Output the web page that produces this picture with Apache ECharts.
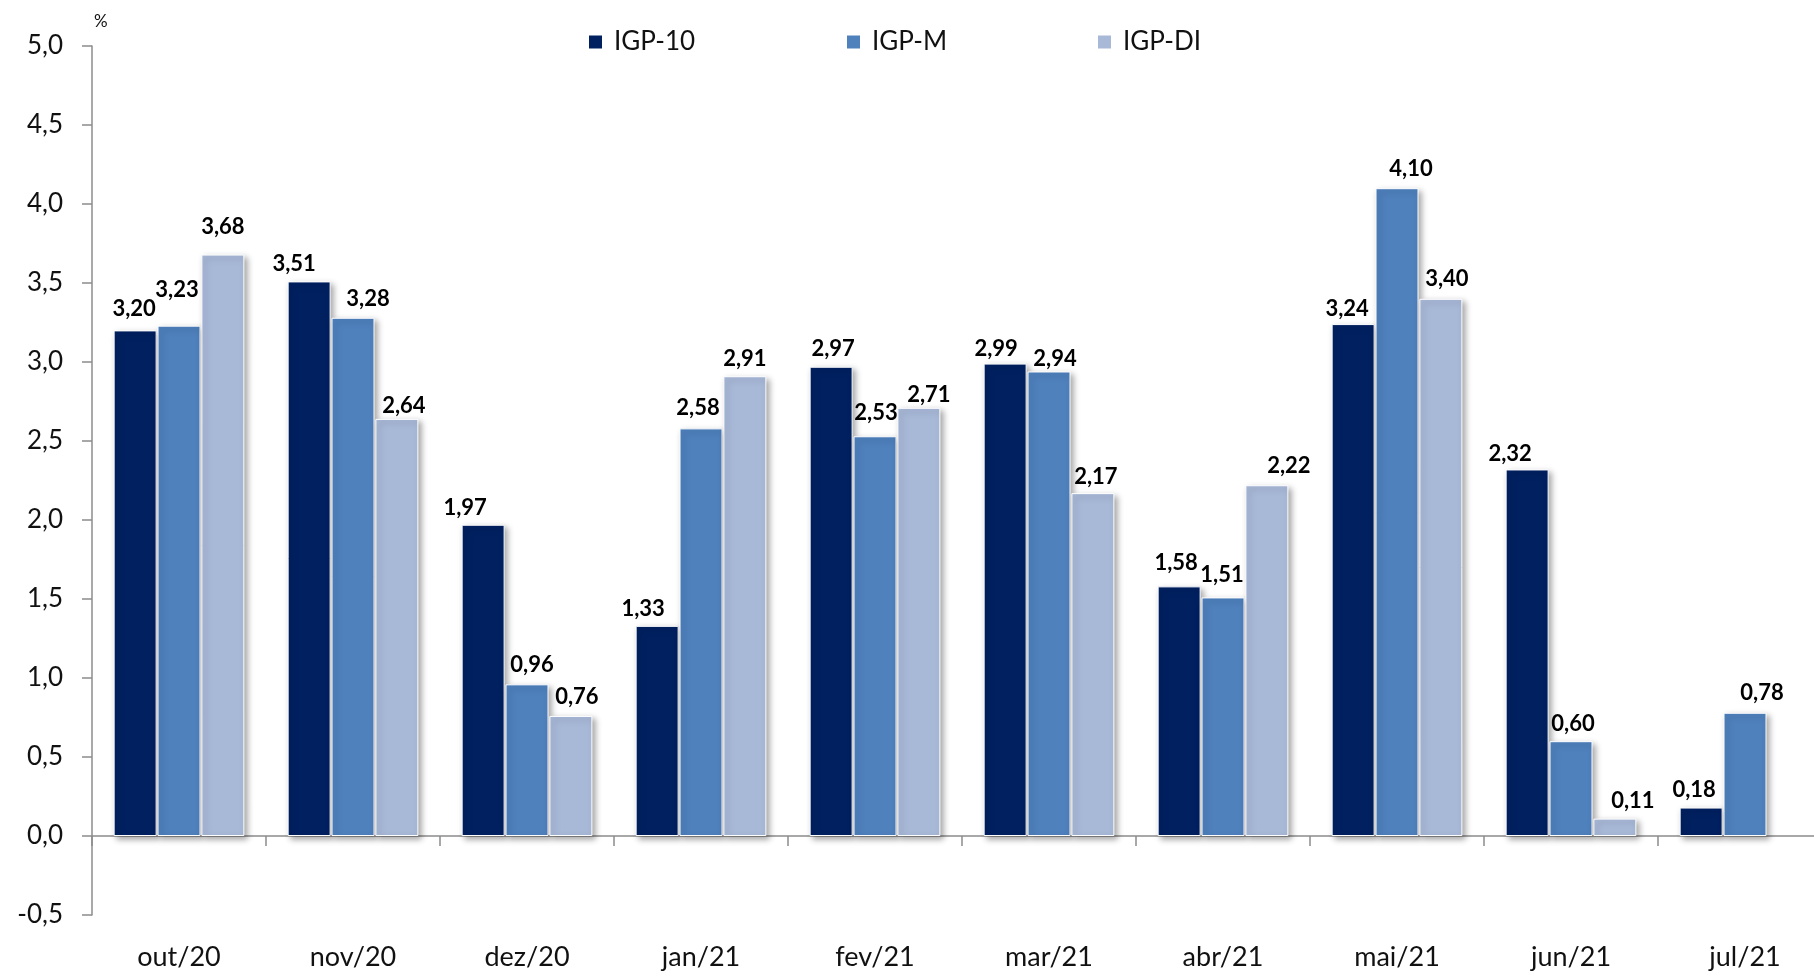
<!DOCTYPE html>
<html>
<head>
<meta charset="utf-8">
<style>
  html, body { margin: 0; padding: 0; background: #fff; }
  #chart { width: 1814px; height: 976px; }
</style>
<script src="https://cdn.jsdelivr.net/npm/echarts@6/dist/echarts.min.js"></script>
</head>
<body>
<div id="chart"></div>
<script>
// ---- data ----
const categories = ['out/20', 'nov/20', 'dez/20', 'jan/21', 'fev/21', 'mar/21', 'abr/21', 'mai/21', 'jun/21', 'jul/21'];
const seriesNames = ['IGP-10', 'IGP-M', 'IGP-DI'];
const igp10 = [3.20, 3.51, 1.97, 1.33, 2.97, 2.99, 1.58, 3.24, 2.32, 0.18];
const igpM  = [3.23, 3.28, 0.96, 2.58, 2.53, 2.94, 1.51, 4.10, 0.60, 0.78];
const igpDI = [3.68, 2.64, 0.76, 2.91, 2.71, 2.17, 2.22, 3.40, 0.11, null];
const yTicks = [-0.5, 0.0, 0.5, 1.0, 1.5, 2.0, 2.5, 3.0, 3.5, 4.0, 4.5, 5.0];

// ---- styling (label nudges as in the original, px) ----
const colors = ['#002060', '#4F81BD', '#A8B9D8'];
const nudge10 = [[-1,-3],[-15,0],[-18,1],[-14,1],[2,0],[-9,3],[-3,-5],[-6,3],[-17,2],[-7,0]];
const nudgeM  = [[-2,-18],[15,-1],[5,-1],[-3,-2],[1,-5],[6,5],[-1,-5],[14,-1],[2,1],[17,-2]];
const nudgeDI = [[0,-10],[7,5],[6,-1],[0,1],[10,5],[3,2],[22,-1],[6,-2],[18,0],[0,0]];

const FONT = 'Lato, "Open Sans", sans-serif';
const fmt2 = v => v.toFixed(2).replace('.', ',');
const fmt1 = v => v.toFixed(1).replace('.', ',');

function build(values, nudges) {
  return values.map((v, i) => v === null ? null : ({ value: v, label: { offset: nudges[i] } }));
}

const allValues = [igp10, igpM, igpDI];
const allNudges = [nudge10, nudgeM, nudgeDI];

const series = seriesNames.map((name, k) => ({
  name: name,
  type: 'bar',
  xAxisIndex: 0,
  yAxisIndex: 0,
  barWidth: 43,
  barGap: '2%',
  data: build(allValues[k], allNudges[k]),
  itemStyle: {
    color: colors[k],
    borderColor: '#ffffff',
    borderWidth: 1,
    shadowColor: 'rgba(0,0,0,0.35)',
    shadowBlur: 6,
    shadowOffsetX: 3,
    shadowOffsetY: 3
  },
  label: {
    show: true,
    position: 'top',
    distance: 7,
    fontFamily: FONT,
    fontWeight: 'bold',
    fontSize: 22,
    color: '#000',
    formatter: p => fmt2(p.value)
  },
  emphasis: { disabled: true }
}));

const legendLefts = [582, 840, 1091];
const legends = seriesNames.map((name, k) => ({
  data: [name],
  left: legendLefts[k],
  top: 24,
  icon: 'rect',
  itemWidth: 15,
  itemHeight: 15,
  itemGap: 0,
  selectedMode: false,
  textStyle: { fontFamily: FONT, fontSize: 26, color: '#111', padding: [0, 0, 0, 6] }
}));

const chart = echarts.init(document.getElementById('chart'), null, { renderer: 'canvas' });
chart.setOption({
  animation: false,
  backgroundColor: '#ffffff',
  legend: legends,
  grid: { left: 92, top: 46, bottom: 61, right: -18, containLabel: false, outerBoundsMode: 'none' },
  xAxis: [
    {
      type: 'category',
      data: categories,
      position: 'bottom',
      axisLine: { onZero: true, lineStyle: { color: '#8c8c8c', width: 1.5 } },
      axisTick: { show: true, length: 10, lineStyle: { color: '#8c8c8c', width: 1.5 } },
      axisLabel: { show: false }
    },
    {
      type: 'category',
      data: categories,
      position: 'bottom',
      axisLine: { show: false, onZero: false },
      axisTick: { show: false },
      axisLabel: { show: true, margin: 29, fontFamily: FONT, fontSize: 27, color: '#111' }
    }
  ],
  yAxis: {
    type: 'value',
    min: yTicks[0],
    max: yTicks[yTicks.length - 1],
    interval: 0.5,
    splitLine: { show: false },
    axisLine: { show: true, lineStyle: { color: '#8c8c8c', width: 1.5 } },
    axisTick: { show: true, length: 10, lineStyle: { color: '#8c8c8c', width: 1.5 } },
    axisLabel: { margin: 29, fontFamily: FONT, fontSize: 26, color: '#111', formatter: v => fmt1(v) }
  },
  graphic: [
    { type: 'text', left: 94, top: 13, style: { text: '%', fontFamily: FONT, fontSize: 17, fill: '#111' } }
  ],
  series: series
});
</script>
</body>
</html>
